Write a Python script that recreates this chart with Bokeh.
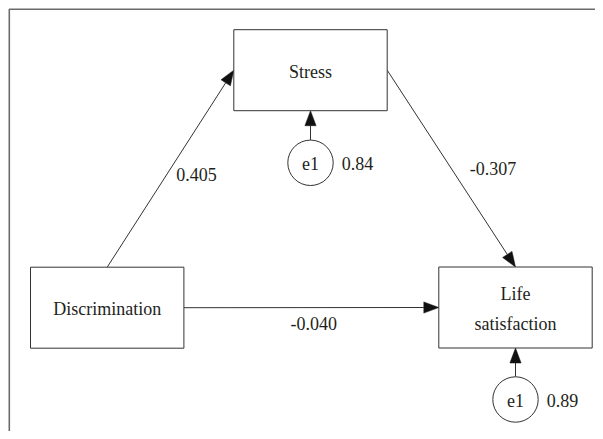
import math
from bokeh.plotting import figure
from bokeh.models import Range1d, ColumnDataSource
from bokeh.core.properties import value
from bokeh.embed import file_html
from bokeh.resources import INLINE

# ---- data ----
variables = ["Discrimination", "Stress", "Life\nsatisfaction"]
path_from = ["Discrimination", "Stress", "Discrimination"]
path_to = ["Stress", "Life\nsatisfaction", "Life\nsatisfaction"]
path_coef = [0.405, -0.307, -0.040]
path_labels = ["0.405", "-0.307", "-0.040"]
error_names = ["e1", "e1"]
error_targets = ["Stress", "Life\nsatisfaction"]
error_values = ["0.84", "0.89"]

# ---- layout (pixel coordinates) ----
box_center = {"Discrimination": (106.7, 307.2), "Stress": (310.0, 69.7),
              "Life\nsatisfaction": (515.0, 307.0)}
BOX_W, BOX_H = 153.4, 81.0
ERR_R = 22.7
err_center = {"Stress": (310.0, 162.3), "Life\nsatisfaction": (515.0, 399.0)}
path_anchor = [("top", "left"), ("right", "top"), ("right", "left")]
label_pos = [(196.0, 174.0), (492.5, 168.0), (313.3, 323.0)]

FONT = value("Liberation Serif")
TXT = "#231f20"
LINE = "#333333"

def side(name, s):
    cx, cy = box_center[name]
    return {"top": (cx, cy - BOX_H / 2), "bottom": (cx, cy + BOX_H / 2),
            "left": (cx - BOX_W / 2, cy), "right": (cx + BOX_W / 2, cy)}[s]

p = figure(width=595, height=431, x_range=Range1d(0, 595), y_range=Range1d(431, 0),
           output_backend="svg", toolbar_location=None, min_border=0,
           x_axis_type=None, y_axis_type=None, outline_line_color=None,
           background_fill_color="white", border_fill_color="white")
p.grid.visible = False

# outer frame (top and left edges visible)
p.line(x=[8.8, 8.8, 600], y=[431, 8.8, 8.8], line_color="#6a6a6a", line_width=1.6)

xs, ys, hx, hy = [], [], [], []
def add_arrow(x0, y0, x1, y1, L=15.0, W=5.6):
    dx, dy = x1 - x0, y1 - y0
    n = math.hypot(dx, dy)
    ux, uy = dx / n, dy / n
    bx, by = x1 - L * ux, y1 - L * uy
    xs.append([x0, bx]); ys.append([y0, by])
    hx.append([x1, bx - W * uy, bx + W * uy])
    hy.append([y1, by + W * ux, by - W * ux])

for f, t, (a0, a1) in zip(path_from, path_to, path_anchor):
    x0, y0 = side(f, a0)
    x1, y1 = side(t, a1)
    add_arrow(x0, y0, x1, y1)

for tgt in error_targets:
    cx, cy = err_center[tgt]
    bx, by = side(tgt, "bottom")
    add_arrow(cx, cy - ERR_R, bx, by)

p.multi_line(xs=xs, ys=ys, line_color=LINE, line_width=1)
p.patches(xs=hx, ys=hy, fill_color="#111111", line_color="#111111", line_width=0.5)

bsrc = ColumnDataSource(dict(x=[box_center[v][0] for v in variables],
                             y=[box_center[v][1] for v in variables],
                             name=variables))
p.rect(x="x", y="y", width=BOX_W, height=BOX_H, source=bsrc,
       fill_color="white", line_color=LINE, line_width=1)
p.text(x="x", y="y", text="name", source=bsrc, text_font=FONT, text_font_size="18px",
       text_align="center", text_baseline="middle", text_color=TXT,
       text_line_height=1.5, y_offset=1.5)

esrc = ColumnDataSource(dict(x=[err_center[t][0] for t in error_targets],
                             y=[err_center[t][1] for t in error_targets],
                             name=error_names, val=error_values,
                             vx=[err_center[t][0] + ERR_R + 8.5 for t in error_targets]))
p.circle(x="x", y="y", radius=ERR_R, source=esrc, fill_color="white",
         line_color=LINE, line_width=1)
p.text(x="x", y="y", text="name", source=esrc, text_font=FONT, text_font_size="18px",
       text_align="center", text_baseline="middle", text_color=TXT, y_offset=1)
p.text(x="vx", y="y", text="val", source=esrc, text_font=FONT, text_font_size="18px",
       text_align="left", text_baseline="middle", text_color=TXT, y_offset=1)

lsrc = ColumnDataSource(dict(x=[l[0] for l in label_pos], y=[l[1] for l in label_pos],
                             t=path_labels))
p.text(x="x", y="y", text="t", source=lsrc, text_font=FONT, text_font_size="18px",
       text_align="center", text_baseline="middle", text_color=TXT)

open("out.html", "w").write(file_html(p, INLINE))
